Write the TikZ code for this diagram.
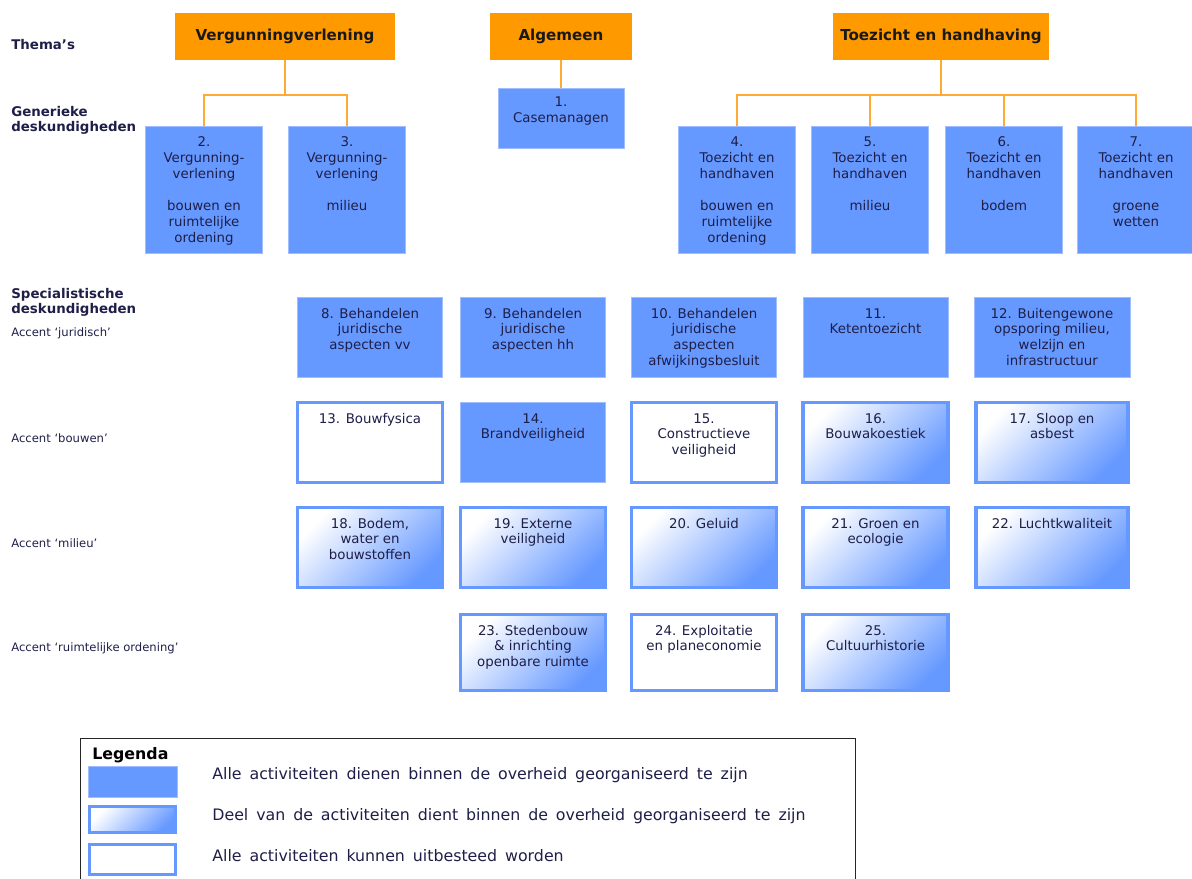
\documentclass[tikz,border=0pt]{standalone}
\usepackage{fontspec}
\setmainfont{DejaVu Sans}
\usepackage{xcolor}
\usepackage{tikz}
\usetikzlibrary{positioning}

\definecolor{themeorange}{RGB}{255,153,0}
\definecolor{linkorange}{RGB}{255,170,50}
\definecolor{boxblue}{RGB}{102,153,255}
\definecolor{edgeblue}{RGB}{160,190,255}
\definecolor{ink}{RGB}{30,30,72}

\newcommand{\boxfont}{\fontsize{7.6}{9.1}\selectfont}
\newcommand{\titlefont}{\fontsize{8.6}{10}\selectfont\bfseries}
\newcommand{\headfont}{\fontsize{7.6}{8.5}\selectfont\bfseries}
\newcommand{\accentfont}{\fontsize{6.6}{8}\selectfont}
\newcommand{\legendfont}{\fontsize{9}{10}\selectfont\spaceskip=0.5em plus 0.1em}
% top-aligned centred lines inside a box
\newcommand{\cellstack}[1]{\begin{tabular}[t]{@{}c@{}}#1\end{tabular}}

\begin{document}
\begin{tikzpicture}[x=0.02cm, y=-0.02cm,
    theme/.style={rectangle, fill=themeorange, minimum height=0.94cm, font=\titlefont, text=black!90},
    conn/.style={draw=linkorange, line width=1.3pt},
    fullfill/.style={rectangle, fill=boxblue, draw=edgeblue, line width=0.5pt},
    partfill/.style={rectangle, draw=boxblue, line width=2pt, top color=white, bottom color=boxblue, shading angle=45},
    openfill/.style={rectangle, draw=boxblue, line width=2pt, fill=white},
    cell/.style={font=\boxfont, text=ink, inner xsep=0pt, inner ysep=0.2cm, text height=0.21cm},
    fullbox/.style={fullfill, cell},
    partbox/.style={partfill, cell},
    openbox/.style={openfill, cell},
    gen/.style={minimum width=2.34cm, text depth=1.93cm},
    spec/.style={minimum width=2.9cm, text depth=0.99cm},
    specro/.style={minimum width=2.9cm, text depth=0.91cm},
    head/.style={anchor=west, align=left, font=\headfont, text=ink, inner sep=0pt},
    accent/.style={anchor=west, font=\accentfont, text=ink, inner sep=0pt},
    legtxt/.style={anchor=west, font=\legendfont, text=ink, inner sep=0pt}
]
    \useasboundingbox (0,0) rectangle (1192,878);

    % Row labels
    \node[head] (lthema) at (11,45) {Thema's};
    \node[head] (lgen) at (11,120.5) {Generieke\\deskundigheden};
    \node[head] (lspec) at (11,302.5) {Specialistische\\deskundigheden};
    \node[accent] (ljur) at (11,333) {Accent `juridisch'};
    \node[accent] (lbouw) at (11,438) {Accent `bouwen'};
    \node[accent] (lmil) at (11,543) {Accent `milieu'};
    \node[accent] (lro) at (11,648) {Accent `ruimtelijke ordening'};

    % Themes
    \node[theme, minimum width=4.4cm] (vv) at (285,36.5) {Vergunningverlening};
    \node[theme, minimum width=2.86cm] (alg) at (561,36.5) {Algemeen};
    \node[theme, minimum width=4.34cm] (th) at (941,36.5) {Toezicht en handhaving};

    % Generic expertise
    \node[fullbox, minimum width=2.52cm, inner ysep=0.16cm, text depth=0.67cm] (g1) at (561,118) {\cellstack{1.\\Casemanagen}};
    \node[fullbox, gen] (g2) at (204,189.5) {\cellstack{2.\\Vergunning-\\verlening\\[9.1pt]bouwen en\\ruimtelijke\\ordening}};
    \node[fullbox, gen] (g3) at (347,189.5) {\cellstack{3.\\Vergunning-\\verlening\\[9.1pt]milieu}};
    \node[fullbox, gen] (g4) at (737,189.5) {\cellstack{4.\\Toezicht en\\handhaven\\[9.1pt]bouwen en\\ruimtelijke\\ordening}};
    \node[fullbox, gen] (g5) at (870,189.5) {\cellstack{5.\\Toezicht en\\handhaven\\[9.1pt]milieu}};
    \node[fullbox, gen] (g6) at (1004,189.5) {\cellstack{6.\\Toezicht en\\handhaven\\[9.1pt]bodem}};
    \node[fullbox, gen] (g7) at (1136,189.5) {\cellstack{7.\\Toezicht en\\handhaven\\[9.1pt]groene\\wetten}};

    % Connectors
    \coordinate (vvbar) at (285,95);
    \coordinate (thbar) at (941,95);
    \draw[conn] (vv.south) -- (vvbar);
    \draw[conn] (g2.north) |- (vvbar) -| (g3.north);
    \draw[conn] (alg.south) -- (g1.north);
    \draw[conn] (th.south) -- (thbar);
    \foreach \g in {g4,g5,g6,g7}
        \draw[conn] (thbar) -| (\g.north);

    % Accent juridisch
    \node[fullbox, spec] (s8) at (370,337.5) {\cellstack{8. Behandelen\\juridische\\aspecten vv}};
    \node[fullbox, spec] (s9) at (533,337.5) {\cellstack{9. Behandelen\\juridische\\aspecten hh}};
    \node[fullbox, spec] (s10) at (704,337.5) {\cellstack{10. Behandelen\\juridische\\aspecten\\afwijkingsbesluit}};
    \node[fullbox, spec] (s11) at (875.5,337.5) {\cellstack{11.\\Ketentoezicht}};
    \node[fullbox, spec, minimum width=3.12cm] (s12) at (1052,337.5) {\cellstack{12. Buitengewone\\opsporing milieu,\\welzijn en\\infrastructuur}};

    % Accent bouwen
    \node[openbox, spec] (s13) at (370,442.5) {\cellstack{13. Bouwfysica}};
    \node[fullbox, spec] (s14) at (533,442.5) {\cellstack{14.\\Brandveiligheid}};
    \node[openbox, spec] (s15) at (704,442.5) {\cellstack{15.\\Constructieve\\veiligheid}};
    \node[partbox, spec] (s16) at (875.5,442.5) {\cellstack{16.\\Bouwakoestiek}};
    \node[partbox, spec, minimum width=3.05cm] (s17) at (1052,442.5) {\cellstack{17. Sloop en\\asbest}};

    % Accent milieu
    \node[partbox, spec] (s18) at (370,547.5) {\cellstack{18. Bodem,\\water en\\bouwstoffen}};
    \node[partbox, spec] (s19) at (533,547.5) {\cellstack{19. Externe\\veiligheid}};
    \node[partbox, spec] (s20) at (704,547.5) {\cellstack{20. Geluid}};
    \node[partbox, spec] (s21) at (875.5,547.5) {\cellstack{21. Groen en\\ecologie}};
    \node[partbox, spec, minimum width=3.05cm] (s22) at (1052,547.5) {\cellstack{22. Luchtkwaliteit}};

    % Accent ruimtelijke ordening
    \node[partbox, specro] (s23) at (533,652.5) {\cellstack{23. Stedenbouw\\\& inrichting\\openbare ruimte}};
    \node[openbox, specro] (s24) at (704,652.5) {\cellstack{24. Exploitatie\\en planeconomie}};
    \node[partbox, specro] (s25) at (875.5,652.5) {\cellstack{25.\\Cultuurhistorie}};

    % Legend
    \node[draw=black!85, line width=0.6pt, minimum width=15.5cm, minimum height=2.92cm,
        anchor=north west, inner sep=0pt] (legend) at (80,738) {};
    \node[anchor=west, inner sep=0pt, font=\fontsize{9}{10}\selectfont\bfseries, text=black] (legtitle) at (92,755) {Legenda};
    \node[fullfill, minimum width=1.78cm, minimum height=0.62cm] (key1) at (132.5,781.5) {};
    \node[partfill, minimum width=1.72cm, minimum height=0.52cm] (key2) at (132.5,819.5) {};
    \node[openfill, minimum width=1.72cm, minimum height=0.6cm] (key3) at (132.5,859.5) {};
    \node[legtxt] (leg1) at (212,775) {Alle activiteiten dienen binnen de overheid georganiseerd te zijn};
    \node[legtxt] (leg2) at (212,816) {Deel van de activiteiten dient binnen de overheid georganiseerd te zijn};
    \node[legtxt] (leg3) at (212,856) {Alle activiteiten kunnen uitbesteed worden};
\end{tikzpicture}
\end{document}
